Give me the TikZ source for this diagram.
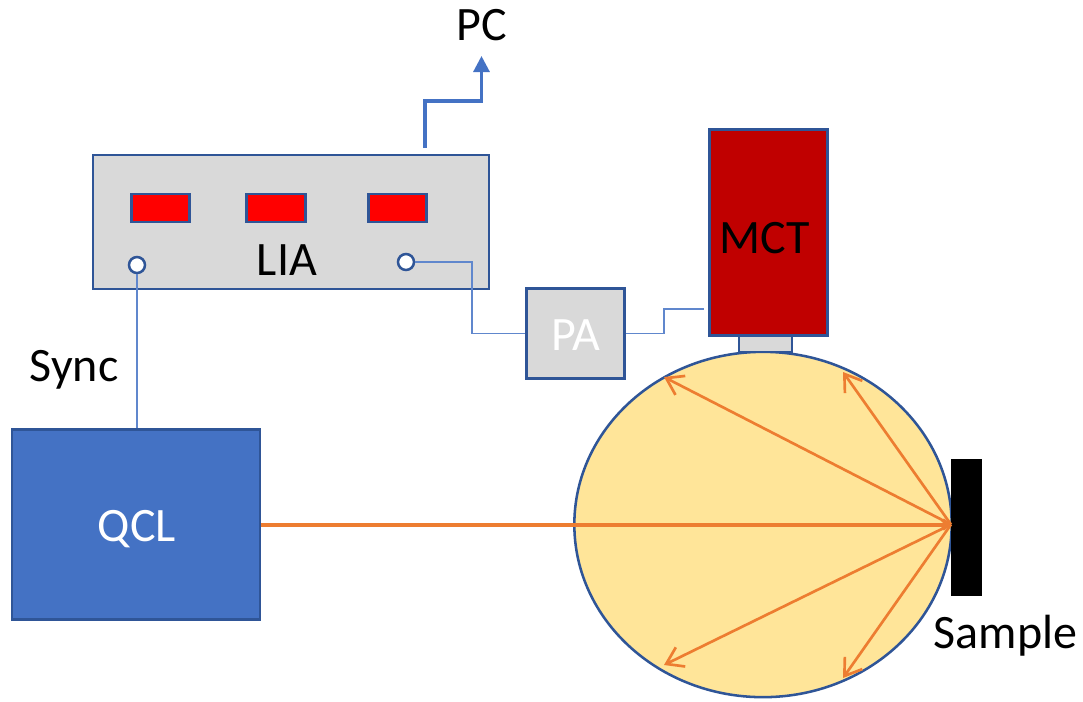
\documentclass[tikz,border=0pt]{standalone}
\usepackage{fontspec}
\setmainfont{Carlito}
\usepackage{xcolor}
\usetikzlibrary{
    arrows.meta,
    shapes.geometric,
    positioning,
    calc
}
\definecolor{edgeblue}{RGB}{47,85,151}
\definecolor{wireblue}{RGB}{68,114,196}
\definecolor{beamorange}{RGB}{237,125,49}
\definecolor{boxgray}{RGB}{217,217,217}
\definecolor{sphereyellow}{RGB}{255,229,153}
\definecolor{mctred}{RGB}{192,0,0}
\tikzstyle{unit} = [
    rectangle,
    draw=edgeblue,
    line width=2.1pt,
    inner sep=0pt
]
\tikzstyle{display} = [
    rectangle,
    draw=edgeblue,
    line width=2.1pt,
    fill=red,
    inner sep=0pt,
    minimum width=44pt,
    minimum height=21pt
]
\tikzstyle{port} = [
    circle,
    draw=edgeblue,
    line width=1.9pt,
    fill=white,
    inner sep=0pt,
    minimum size=12pt
]
\tikzstyle{label} = [
    inner sep=0pt,
    anchor=base,
    font=\fontsize{36}{40}\selectfont
]
\tikzstyle{wire} = [
    draw=wireblue!85,
    line width=0.9pt
]
\tikzstyle{pcarrow} = [
    draw=wireblue,
    line width=2.3pt,
    -{Triangle[length=12pt,width=12pt]}
]
\tikzstyle{beam} = [
    draw=beamorange,
    line width=3pt,
    -{Straight Barb[length=4pt,width=7pt]}
]
\tikzstyle{ray} = [
    draw=beamorange,
    line width=2pt,
    -{Straight Barb[length=12pt,width=16pt]}
]

\begin{document}
\begin{tikzpicture}[x=0.75pt, y=-0.75pt]
        \useasboundingbox (0,0) rectangle (1083,701);

        % Lock-in amplifier
        \node[unit, fill=boxgray, minimum width=297pt, minimum height=100.5pt] (lia) at (291,222) {};
        \node[display] (disp_a) at (160.5,208) {};
        \node[display] (disp_b) at (276,208) {};
        \node[display] (disp_c) at (397.5,208) {};
        \node[label] (lia_text) at (287,275) {LIA};
        \node[port] (port_sync) at (137,265) {};
        \node[port] (port_in) at (406,262) {};

        % Laser and amplifier
        \node[unit, fill=wireblue, minimum width=186pt, minimum height=143pt] (qcl) at (136,524.5) {};
        \node[label, text=white] (qcl_text) at (137,541) {QCL};
        \node[unit, fill=boxgray, minimum width=73pt, minimum height=67pt] (pa) at (575.5,333.5) {};
        \node[label, text=white] (pa_text) at (576,350) {PA};

        % Sphere and detector
        \node[ellipse, draw=edgeblue, line width=1.9pt, fill=sphereyellow, inner sep=0pt, minimum width=283pt, minimum height=259pt] (sphere) at (763,524.5) {};
        \node[rectangle, draw=edgeblue, line width=1.9pt, fill=boxgray, inner sep=0pt, minimum width=40pt, minimum height=13pt] (window) at (765.5,343.5) {};
        \node[unit, fill=mctred, minimum width=89pt, minimum height=154pt] (mct) at (768.5,232.5) {};
        \node[label] (mct_text) at (765,253) {MCT};
        \node[rectangle, fill=black, inner sep=0pt, minimum width=23pt, minimum height=103pt] (sample) at (966.5,527.5) {};

        % Labels
        \node[label] (pc_text) at (481.5,40) {PC};
        \node[label] (sync_text) at (74,381) {Sync};
        \node[label] (sample_text) at (1005.5,648) {Sample};

        % Free ends
        \coordinate (pc_start) at (425,148);
        \coordinate (pc_tip) at (481.5,56);
        \coordinate (mct_in) at (704,309);
        \coordinate (focus) at (951,524.5);
        \coordinate (tip_a) at (664,377);
        \coordinate (tip_b) at (843,372);
        \coordinate (tip_c) at (664,665);
        \coordinate (tip_d) at (843,678);

        % Wires
        \draw[pcarrow] (pc_start) -- (425,101) -- (481.5,101) -- (pc_tip);
        \draw[wire] (port_sync) -- (port_sync |- qcl.north);
        \draw[wire] (port_in) -- (472,262) -- (472,333.5) -- (pa.west);
        \draw[wire] (pa.east) -- (664,333.5) -- (664,309) -- (mct_in);

        % Rays
        \draw[beam] (qcl.east) -- (focus);
        \draw[ray] (focus) -- (tip_a);
        \draw[ray] (focus) -- (tip_b);
        \draw[ray] (focus) -- (tip_c);
        \draw[ray] (focus) -- (tip_d);
    \end{tikzpicture}
\end{document}
